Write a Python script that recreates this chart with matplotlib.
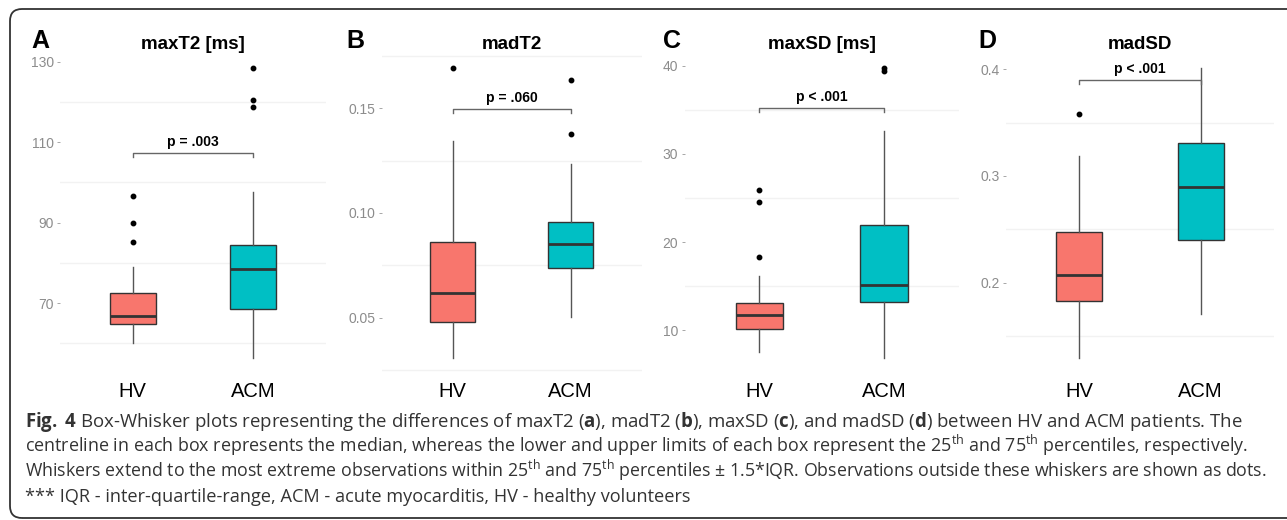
import matplotlib
matplotlib.use("Agg")
import matplotlib.pyplot as plt
from matplotlib.patches import FancyBboxPatch

# ---------------- data ----------------
groups = ["HV", "ACM"]
# five-number summaries: [lower whisker, Q1, median, Q3, upper whisker]
maxT2_hv = [60.0, 64.9, 66.8, 72.4, 79.0]
maxT2_hv_out = [85.2, 90.0, 96.7]
maxT2_acm = [56.3, 68.5, 78.4, 84.3, 97.5]
maxT2_acm_out = [118.8, 120.4, 128.3]

madT2_hv = [0.0306, 0.0479, 0.0616, 0.0862, 0.1344]
madT2_hv_out = [0.169]
madT2_acm = [0.0503, 0.0735, 0.0852, 0.0957, 0.1235]
madT2_acm_out = [0.1376, 0.1635]

maxSD_hv = [7.48, 10.19, 11.7, 13.13, 16.14]
maxSD_hv_out = [18.34, 24.6, 25.87]
maxSD_acm = [6.83, 13.2, 15.12, 21.9, 32.56]
maxSD_acm_out = [39.45, 39.7]

madSD_hv = [0.1294, 0.1829, 0.2068, 0.2476, 0.3187]
madSD_hv_out = [0.358]
madSD_acm = [0.1704, 0.2397, 0.2899, 0.3312, 0.4006]
madSD_acm_out = []

panel_letters = ["A", "B", "C", "D"]
panel_titles = ["maxT2 [ms]", "madT2", "maxSD [ms]", "madSD"]
p_labels = ["p = .003", "p = .060", "p < .001", "p < .001"]
bracket_y = [107.3, 0.1497, 35.2, 0.3898]

ticks_A = [70, 90, 110, 130]
ticks_B = [0.05, 0.10, 0.15]
ticks_C = [10, 20, 30, 40]
ticks_D = [0.2, 0.3, 0.4]
ticklabels_A = ["70", "90", "110", "130"]
ticklabels_B = ["0.05", "0.10", "0.15"]
ticklabels_C = ["10", "20", "30", "40"]
ticklabels_D = ["0.2", "0.3", "0.4"]
grid_A = [60, 80, 100, 120]
grid_B = [0.025, 0.075, 0.125, 0.175]
grid_C = [5, 15, 25, 35]
grid_D = [0.15, 0.25, 0.35]

caption_lines = [
    r"$\mathbf{Fig.}$ $\mathbf{4}$ Box-Whisker plots representing the differences of maxT2 ($\mathbf{a}$), madT2 ($\mathbf{b}$), maxSD ($\mathbf{c}$), and madSD ($\mathbf{d}$) between HV and ACM patients. The",
    r"centreline in each box represents the median, whereas the lower and upper limits of each box represent the 25$^{\mathrm{th}}$ and 75$^{\mathrm{th}}$ percentiles, respectively.",
    r"Whiskers extend to the most extreme observations within 25$^{\mathrm{th}}$ and 75$^{\mathrm{th}}$ percentiles ± 1.5*IQR. Observations outside these whiskers are shown as dots.",
    r"*** IQR - inter-quartile-range, ACM - acute myocarditis, HV - healthy volunteers",
]

# ---------------- style ----------------
W, H = 1287, 520
HV_COL = "#F8766D"
ACM_COL = "#00BFC4"
EDGE = "#333333"
plt.rcParams["font.family"] = ["Liberation Sans", "DejaVu Sans"]
cap_font = "Open Sans"
plt.rcParams["mathtext.fontset"] = "custom"
plt.rcParams["mathtext.rm"] = cap_font
plt.rcParams["mathtext.it"] = cap_font + ":italic"
plt.rcParams["mathtext.bf"] = cap_font + ":bold"

fig = plt.figure(figsize=(W / 100, H / 100), dpi=100)

# rounded frame (inches from bottom-left)
frame = FancyBboxPatch((0.10, 0.02), 13.5, 5.09,
                       boxstyle="round,pad=0,rounding_size=0.12",
                       transform=fig.dpi_scale_trans, fill=False,
                       edgecolor="#333333", linewidth=1.3)
fig.patches.append(frame)

panels = [
    (maxT2_hv, maxT2_hv_out, maxT2_acm, maxT2_acm_out, ticks_A, ticklabels_A, grid_A),
    (madT2_hv, madT2_hv_out, madT2_acm, madT2_acm_out, ticks_B, ticklabels_B, grid_B),
    (maxSD_hv, maxSD_hv_out, maxSD_acm, maxSD_acm_out, ticks_C, ticklabels_C, grid_C),
    (madSD_hv, madSD_hv_out, madSD_acm, madSD_acm_out, ticks_D, ticklabels_D, grid_D),
]
ax_px = [(60.4, 325.6), (381.9, 641.5), (684.5, 958.8), (1006, 1273.7)]
letter_x = [31, 346, 663, 978]
top_px, bot_px = 54, 372.6

for i, (hv, hv_out, acm, acm_out, ticks, tlabels, grid) in enumerate(panels):
    l, r = ax_px[i]
    ax = fig.add_axes([l / W, 1 - bot_px / H, (r - l) / W, (bot_px - top_px) / H])
    stats = []
    for lab, s, o in [(groups[0], hv, hv_out), (groups[1], acm, acm_out)]:
        stats.append(dict(label=lab, whislo=s[0], q1=s[1], med=s[2], q3=s[3],
                          whishi=s[4], fliers=o))
    bp = ax.bxp(stats, positions=[1, 2], widths=0.38, patch_artist=True,
                showcaps=False,
                boxprops=dict(edgecolor=EDGE, linewidth=1.0),
                whiskerprops=dict(color="#555555", linewidth=1.0),
                medianprops=dict(color=EDGE, linewidth=2.0),
                flierprops=dict(marker="o", markersize=3.2, markerfacecolor="black",
                                markeredgecolor="black"))
    for patch, c in zip(bp["boxes"], [HV_COL, ACM_COL]):
        patch.set_facecolor(c)
    allv = hv + acm + hv_out + acm_out
    lo, hi = min(allv), max(allv)
    pad = 0.05 * (hi - lo)
    ax.set_ylim(lo - pad, hi + pad)
    ax.set_xlim(0.4, 2.6)
    for g in grid:
        ax.axhline(g, color="#F2F2F2", linewidth=1.0, zorder=0)
    ax.set_yticks(ticks)
    ax.set_yticklabels(tlabels)
    ax.set_xticks([1, 2])
    ax.set_xticklabels(groups)
    ax.tick_params(axis="y", length=2.5, width=0.6, color="#999999",
                   labelcolor="#8C8C8C", labelsize=10, pad=2)
    ax.tick_params(axis="x", length=0, labelsize=14.5, labelcolor="black", pad=7)
    for sp in ax.spines.values():
        sp.set_visible(False)
    ax.patch.set_alpha(0)
    # significance bracket
    yb = bracket_y[i]
    tip = 0.012 * (hi - lo + 2 * pad)
    ax.plot([1, 1, 2, 2], [yb - tip, yb, yb, yb - tip], color="#666666", linewidth=1.0)
    ax.annotate(p_labels[i], xy=(1.5, yb), xytext=(0, 3), textcoords="offset points",
                ha="center", va="bottom", fontsize=10, fontweight="bold")
    # titles and letters
    fig.text((l + r) / 2 / W, 1 - 49 / H, panel_titles[i], ha="center",
             va="baseline", fontsize=13.5, fontweight="bold")
    fig.text(letter_x[i] / W, 1 - 48 / H, panel_letters[i], ha="left",
             va="baseline", fontsize=18, fontweight="bold")

# caption, each line sized to span the width it has in the reference
cap_y = [427, 452, 477, 502]
cap_right = [1242, 1247, 1263, None]
renderer = fig.canvas.get_renderer()
texts = []
for line, y in zip(caption_lines, cap_y):
    t = fig.text(25 / W, 1 - y / H, line, ha="left", va="baseline",
                 fontsize=12, family=[cap_font, "DejaVu Sans"], color="#333333")
    texts.append(t)
sizes = []
for t, rgt in zip(texts, cap_right):
    if rgt is not None:
        wpx = t.get_window_extent(renderer).width
        sizes.append(12 * (rgt - 25) / wpx)
    else:
        sizes.append(sum(sizes) / len(sizes))
for t, s in zip(texts, sizes):
    t.set_fontsize(s)

fig.savefig("out.png", dpi=100)
